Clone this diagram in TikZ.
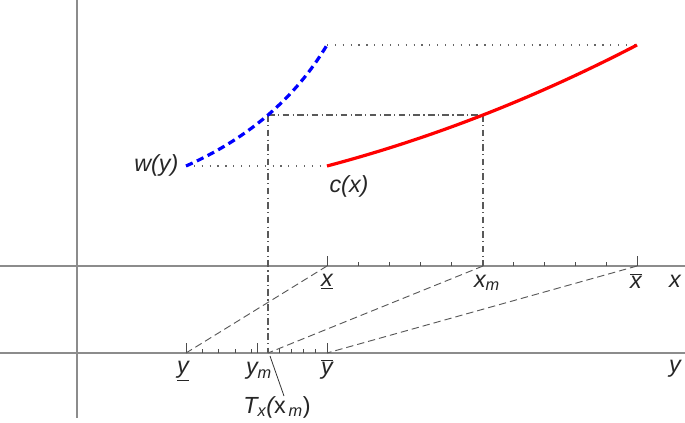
\documentclass[tikz,border=0pt]{standalone}
\usepackage{fontspec}
\setmainfont{Liberation Sans}
\begin{document}
\begin{tikzpicture}[x=0.75pt,y=-0.75pt,
  axis/.style={draw=axgray,line width=1.2pt},
  tickline/.style={draw=black!70,line width=0.6pt},
  guide/.style={draw=black!65,line width=0.7pt,dash pattern=on 5.5pt off 3pt},
  dotline/.style={draw=black!60,line width=0.9pt,dash pattern=on 0.9pt off 5pt},
  dashdot/.style={draw=black!65,line width=0.8pt,dash pattern=on 5pt off 2.5pt on 0.9pt off 2.5pt},
  lbl/.style={font=\fontsize{17.5}{20}\selectfont\itshape,text=black!85,inner sep=1pt},
]
\definecolor{axgray}{HTML}{8C8C8C}
\useasboundingbox (0,0) rectangle (685,422);
% axes
\coordinate (vtop) at (77,0); \coordinate (vbot) at (77,418);
\coordinate (xl) at (0,266); \coordinate (xr) at (685,266);
\coordinate (yl) at (0,353); \coordinate (yr) at (685,353);
\draw[axis] (vtop) -- (vbot);
\draw[axis] (xl) -- (xr);
\draw[axis] (yl) -- (yr);
% key points
\coordinate (xlo) at (327,266); \coordinate (xm) at (483,266); \coordinate (xhi) at (637,266);
\coordinate (ylo) at (186,353); \coordinate (tx) at (268,353); \coordinate (yhi) at (327,353);
\coordinate (ym) at (257,353);
\coordinate (w0) at (186,166); \coordinate (w1) at (268,115); \coordinate (w2) at (327,45);
\coordinate (c0) at (327,166); \coordinate (c1) at (483,115); \coordinate (c2) at (637,45);
% ticks on x axis
\foreach \i in {1,...,9} {\draw[tickline] (327+31*\i,266) -- ++(0,-4);}
\draw[tickline] (xlo) -- ++(0,-10);
\draw[tickline] (xhi) -- ++(0,-10);
% ticks on y axis
\foreach \i in {1,...,4} {\draw[tickline] (186+16.4*\i,353) -- ++(0,-4);}
\foreach \i in {1,...,4} {\draw[tickline] (268+11.8*\i,353) -- ++(0,-4);}
\draw[tickline] (ylo) -- ++(0,-10);
\draw[tickline] (yhi) -- ++(0,-10);
\draw[tickline] (ym) -- ++(0,-10);
% guides
\draw[guide] (xlo) -- (ylo);
\draw[guide] (xm) -- (tx);
\draw[guide] (xhi) -- (yhi);
\draw[dotline] (w0) -- (c0);
\draw[dotline] (w2) -- (c2);
\draw[dashdot] (w1) -- (c1);
\draw[dashdot] (w1) -- (tx);
\draw[dashdot] (c1) -- (xm);
% curves
\draw[blue,line width=2.4pt,dash pattern=on 5.5pt off 3.5pt] (w0) .. controls (248.3,138.3) and (295.3,98) .. (w2);
\draw[red,line width=2.4pt] (c0) .. controls (431.7,138.3) and (535,98) .. (c2);
% labels
\node[lbl,anchor=east] (lw) at (180,165) {w(y)};
\node[lbl] (lc) at (349,186) {c(x)};
\node[lbl] (lxlo) at (327,282) {\underline{x}};
\node[lbl] (lxm) at (487,283) {x\textsubscript{m}};
\node[lbl] (lxhi) at (636,281) {$\overline{\hbox{\itshape x}}$};
\node[lbl] (lx) at (675,281) {x};
\node[lbl] (ly) at (675,369) {y};
\node[lbl] (lylo) at (183,371) {\underline{y}};
\node[lbl] (lym) at (259,371) {y\textsubscript{m}};
\node[lbl] (lyhi) at (327,369) {$\overline{\hbox{\itshape y}}$};
\node[lbl] (ltx) at (277,407) {T\textsubscript{x}(\upshape x\textsubscript{\,\itshape m}\upshape)};
\coordinate (ptr) at (284,396);
\draw[black!80,line width=0.6pt] (270,356) -- (ptr);
\end{tikzpicture}
\end{document}
